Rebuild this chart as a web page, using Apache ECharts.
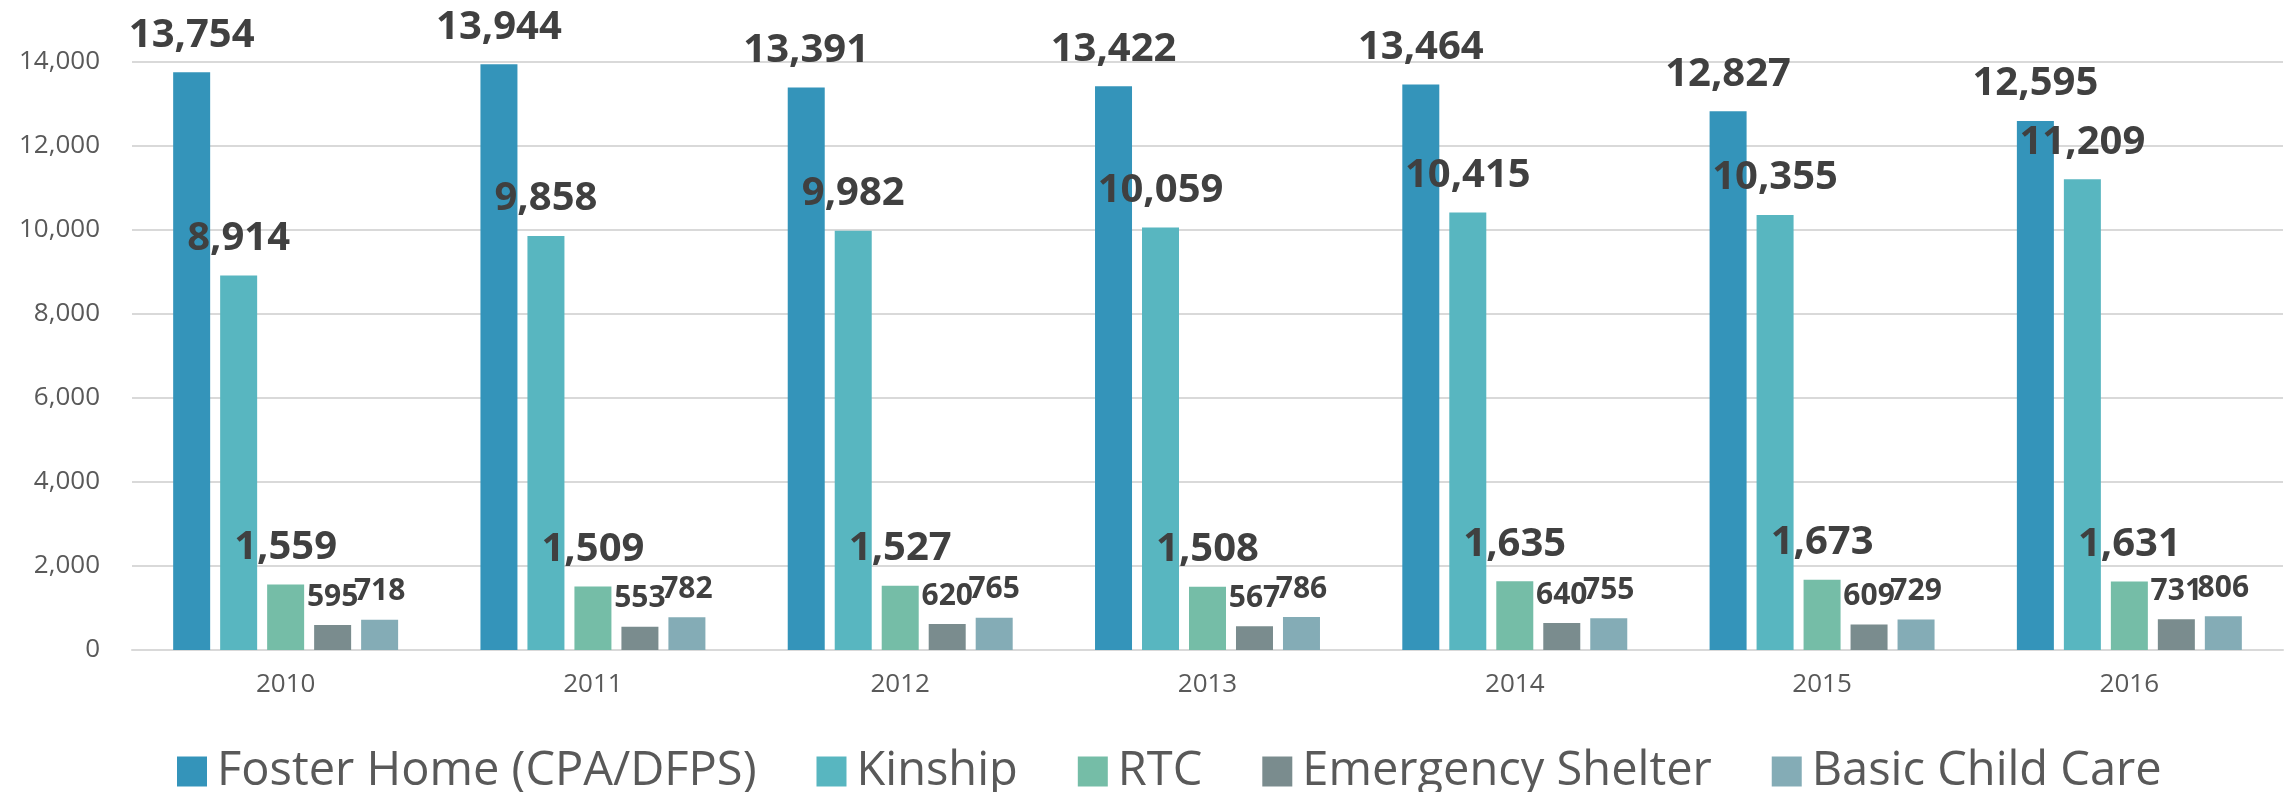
<!DOCTYPE html>
<html>
<head>
<meta charset="utf-8">
<script src="https://cdn.jsdelivr.net/npm/echarts@6/dist/echarts.min.js"></script>
<style>
  html, body { margin: 0; padding: 0; background: #fff; }
  #chart { width: 2295px; height: 792px; }
</style>
</head>
<body>
<div id="chart"></div>
<script>
const years = ['2010', '2011', '2012', '2013', '2014', '2015', '2016']
const fosterHome = [13754, 13944, 13391, 13422, 13464, 12827, 12595]
const kinship = [8914, 9858, 9982, 10059, 10415, 10355, 11209]
const rtc = [1559, 1509, 1527, 1508, 1635, 1673, 1631]
const emergencyShelter = [595, 553, 620, 567, 640, 609, 731]
const basicChildCare = [718, 782, 765, 786, 755, 729, 806]

const FONT = '"Open Sans", sans-serif'

const chart = echarts.init(document.getElementById('chart'))

// one bar series, big or small value label
function barSeries(name, data, color, labelSize) {
  return {
    name,
    type: 'bar',
    data,
    barWidth: 37,
    barGap: '27%',
    itemStyle: { color },
    label: {
      show: true,
      position: 'top',
      distance: labelSize > 35 ? 17 : 13,
      fontFamily: FONT,
      fontWeight: 'bold',
      fontSize: labelSize,
      color: '#404040',
      formatter: p => p.value.toLocaleString('en-US')
    }
  }
}

chart.setOption({
  animation: false,
  textStyle: { fontFamily: FONT },
  grid: { left: 132, right: 12, top: 62, bottom: 142 },
  legend: {
    top: 743,
    left: 172,
    icon: 'rect',
    itemWidth: 30,
    itemHeight: 30,
    itemGap: 60,
    textStyle: { fontFamily: FONT, fontSize: 47, color: '#595959', padding: [0, 0, 0, 5] }
  },
  xAxis: {
    type: 'category',
    data: years,
    axisTick: { show: false },
    axisLine: { lineStyle: { color: '#D9D9D9', width: 2 } },
    axisLabel: { fontFamily: FONT, fontSize: 26, color: '#595959', margin: 22 }
  },
  yAxis: {
    type: 'value',
    min: 0,
    max: 14000,
    interval: 2000,
    axisLine: { show: false },
    axisTick: { show: false },
    splitLine: { lineStyle: { color: '#D9D9D9', width: 2 } },
    axisLabel: {
      fontFamily: FONT,
      fontSize: 26,
      color: '#595959',
      margin: 32,
      formatter: v => v.toLocaleString('en-US')
    }
  },
  series: [
    barSeries('Foster Home (CPA/DFPS)', fosterHome, '#3494BA', 40),
    barSeries('Kinship', kinship, '#58B6C0', 40),
    barSeries('RTC', rtc, '#75BDA7', 40),
    barSeries('Emergency Shelter', emergencyShelter, '#7A8C8E', 30),
    barSeries('Basic Child Care', basicChildCare, '#84ACB6', 30)
  ]
})
</script>
</body>
</html>
